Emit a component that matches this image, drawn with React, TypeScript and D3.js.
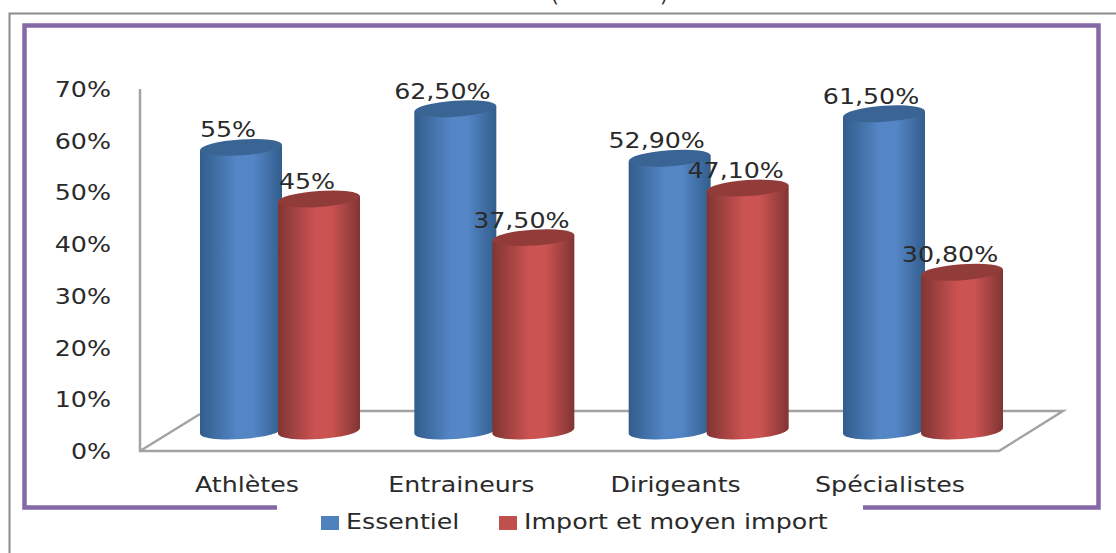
import React from "react";
import * as d3 from "d3";

const categories = ["Athlètes", "Entraineurs", "Dirigeants", "Spécialistes"];
const essentiel = [55, 62.5, 52.9, 61.5];
const importMoyen = [45, 37.5, 47.1, 30.8];
const essentielLabels = ["55%", "62,50%", "52,90%", "61,50%"];
const importLabels = ["45%", "37,50%", "47,10%", "30,80%"];
const ticks = [0, 10, 20, 30, 40, 50, 60, 70];
const seriesNames = ["Essentiel", "Import et moyen import"];

const W = 1116;
const H = 553;
const font = "'DejaVu Sans', sans-serif";
const ink = "#2a2a2a";

// Axis label positions and cylinder heights share one linear mapping each.
const tickY = d3.scaleLinear().domain([0, 70]).range([451, 89]);
const valueY = d3.scaleLinear().domain([0, 70]).range([431, 70]);
const groupX = d3.scalePoint<string>().domain(categories).range([280, 923]);

const RX = 41;
const RY = 8;
const TILT = -4;
const STRETCH = 1.15;

// Text widened horizontally, anchored at (x, y).
function Label({ x, y, anchor = "start", children }: { x: number; y: number; anchor?: string; children: React.ReactNode }) {
  return (
    <text
      transform={`translate(${x} ${y}) scale(${STRETCH} 1)`}
      textAnchor={anchor}
      fontFamily={font}
      fontSize={22}
      fill={ink}
    >
      {children}
    </text>
  );
}

function Cylinder({ cx, value, id, top }: { cx: number; value: number; id: string; top: string }) {
  const yTop = valueY(value);
  const yBase = valueY(0);
  const dy = RX * Math.sin((TILT * Math.PI) / 180);
  const body = [
    `M${cx - RX} ${yTop - dy}`,
    `L${cx + RX} ${yTop + dy}`,
    `L${cx + RX} ${yBase + dy}`,
    `A${RX} ${RY} ${TILT} 0 1 ${cx - RX} ${yBase - dy}`,
    "Z",
  ].join(" ");
  return (
    <g>
      <path d={body} fill={`url(#${id})`} />
      <ellipse cx={cx} cy={yTop} rx={RX} ry={RY} transform={`rotate(${TILT} ${cx} ${yTop})`} fill={top} />
    </g>
  );
}

function Gradient({ id, edge, mid }: { id: string; edge: string; mid: string }) {
  return (
    <linearGradient id={id} x1="0" x2="1" y1="0" y2="0">
      <stop offset="0" stopColor={edge} />
      <stop offset="0.45" stopColor={mid} />
      <stop offset="0.65" stopColor={mid} />
      <stop offset="1" stopColor={edge} />
    </linearGradient>
  );
}

export default function App() {
  return (
    <svg
      width={W}
      height={H}
      viewBox={`0 0 ${W} ${H}`}
      style={{ position: "absolute", left: 0, top: 0, display: "block", background: "#fff" }}
    >
      <defs>
        <Gradient id="blueBody" edge="#325d8c" mid="#5486c6" />
        <Gradient id="redBody" edge="#803533" mid="#cb5352" />
      </defs>

      {/* Outer grey frame and the open purple frame */}
      <path d="M9.5 553 V13.5 H1116" fill="none" stroke="#8c8c8c" strokeWidth={2} />
      <path d="M277 507.5 H24.5 V25.5 H1098.5 V507.5 H863" fill="none" stroke="#8568a6" strokeWidth={4.5} />
      <text x={551} y={2} fontFamily={font} fontSize={20} fill={ink}>(</text>
      <text x={660} y={2} fontFamily={font} fontSize={20} fill={ink}>)</text>

      {/* Floor and value axis */}
      <path
        d="M140 89 V451 H999 L1063 411 H345 M140 451 L200 414"
        fill="none"
        stroke="#a3a3a3"
        strokeWidth={2.5}
      />

      {ticks.map((t) => (
        <Label key={t} x={111} y={tickY(t) + 8} anchor="end">
          {t}%
        </Label>
      ))}

      {categories.map((c, i) => {
        const x = groupX(c) as number;
        return (
          <g key={c}>
            <Cylinder cx={x - 39} value={essentiel[i]} id="blueBody" top="#3a6493" />
            <Cylinder cx={x + 39} value={importMoyen[i]} id="redBody" top="#923c3a" />
          </g>
        );
      })}

      {categories.map((c, i) => {
        const x = groupX(c) as number;
        return (
          <g key={c}>
            <Label x={x - 52} y={valueY(essentiel[i]) - 10} anchor="middle">{essentielLabels[i]}</Label>
            <Label x={x + 27} y={valueY(importMoyen[i]) - 10} anchor="middle">{importLabels[i]}</Label>
            <Label x={x - 33} y={492} anchor="middle">{c}</Label>
          </g>
        );
      })}

      {/* Legend */}
      <rect x={321} y={516} width={18} height={14} fill="#4f81bd" />
      <Label x={346} y={529}>{seriesNames[0]}</Label>
      <rect x={499} y={516} width={18} height={14} fill="#c0504d" />
      <Label x={524} y={529}>{seriesNames[1]}</Label>
    </svg>
  );
}
